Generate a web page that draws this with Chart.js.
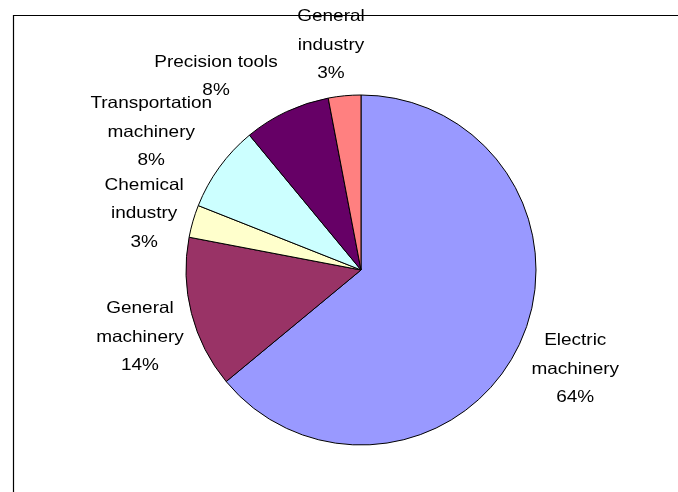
<!DOCTYPE html>
<html>
<head>
<meta charset="utf-8">
<title>Industry breakdown</title>
<script src="https://cdn.jsdelivr.net/npm/chart.js@4.4.1/dist/chart.umd.min.js"></script>
<style>
  html, body { margin: 0; padding: 0; background: #fff; }
  #wrap { width: 678px; height: 492px; position: relative; }
</style>
</head>
<body>
<div id="wrap"><canvas id="pieChart" width="678" height="492"></canvas></div>
<script>
// industry names, one entry per wrapped line
var categories = [
  ["Electric", "machinery"],
  ["General", "machinery"],
  ["Chemical", "industry"],
  ["Transportation", "machinery"],
  ["Precision tools"],
  ["General", "industry"]
];
var shares = [64, 14, 3, 8, 8, 3];
var sliceColors = ["#9999FF", "#993366", "#FFFFCC", "#CCFFFF", "#660066", "#FF8080"];

// where each label sits: distance from the centre and a small turn (deg) off the slice middle
var labelDist = [236, 231, 224, 251, 242, 227];
var labelTurn = [-0.4, -2.5, -1.7, -2.7, -11.6, -2.2];

/* draws "name / xx%" next to every slice */
var sliceLabels = {
  id: 'sliceLabels',
  afterDatasetsDraw: function (chart) {
    var ctx = chart.ctx;
    var meta = chart.getDatasetMeta(0);
    var total = shares.reduce(function (a, b) { return a + b; }, 0);
    ctx.save();
    ctx.font = '16.5px "Liberation Sans", Arial, sans-serif';
    ctx.fillStyle = '#000';
    ctx.textAlign = 'center';
    ctx.textBaseline = 'middle';
    meta.data.forEach(function (arc, i) {
      var mid = (arc.startAngle + arc.endAngle) / 2 + labelTurn[i] * Math.PI / 180;
      var cx = arc.x + Math.cos(mid) * labelDist[i];
      var cy = arc.y + Math.sin(mid) * labelDist[i];
      var lines = categories[i].concat([Math.round(shares[i] / total * 100) + '%']);
      var lh = 28.5;
      var y0 = cy - (lines.length - 1) * lh / 2;
      lines.forEach(function (t, k) {
        ctx.save();
        ctx.translate(cx, y0 + k * lh);
        ctx.scale(1.15, 1);
        ctx.fillText(t, 0, 0);
        ctx.restore();
      });
    });
    ctx.restore();
  },
  // chart frame, runs over the top label like the original sheet
  afterDraw: function (chart) {
    var ctx = chart.ctx;
    ctx.save();
    ctx.strokeStyle = '#000';
    ctx.lineWidth = 1.2;
    ctx.beginPath();
    ctx.moveTo(13.5, chart.height);
    ctx.lineTo(13.5, 15.5);
    ctx.lineTo(chart.width, 15.5);
    ctx.stroke();
    ctx.restore();
  }
};

var ctx = document.getElementById('pieChart').getContext('2d');
var chart = new Chart(ctx, {
  type: 'pie',
  data: {
    labels: categories,
    datasets: [{
      data: shares,
      backgroundColor: sliceColors,
      borderColor: '#000',
      borderWidth: 1
    }]
  },
  options: {
    responsive: false,
    animation: false,
    layout: { padding: { left: 185.5, right: 141.5, top: 94.5, bottom: 46.5 } },
    plugins: {
      legend: { display: false },
      tooltip: { enabled: false }
    }
  },
  plugins: [sliceLabels]
});
</script>
</body>
</html>
